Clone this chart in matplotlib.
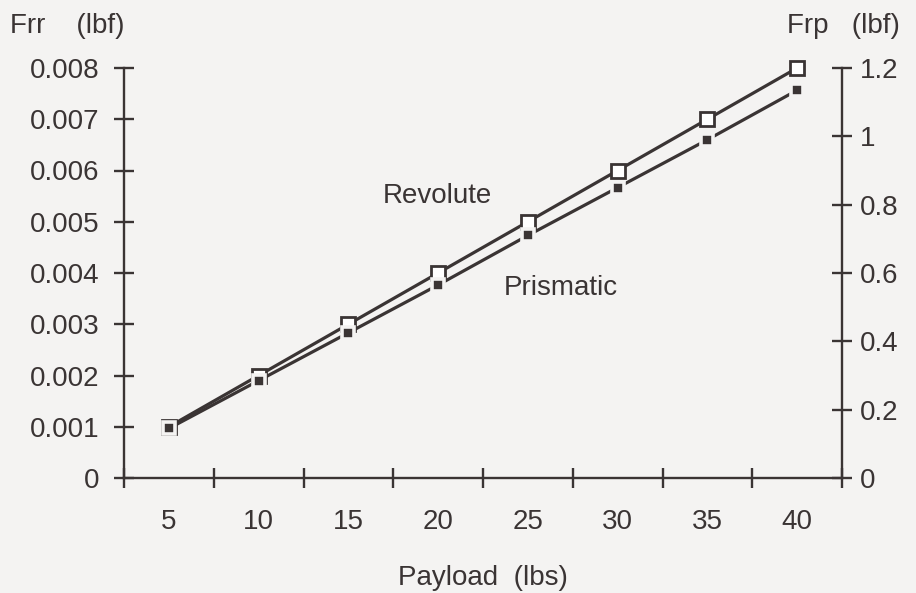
import matplotlib
matplotlib.use("Agg")
import matplotlib.pyplot as plt
import numpy as np

payload = [5, 10, 15, 20, 25, 30, 35, 40]
payload_labels = ["5", "10", "15", "20", "25", "30", "35", "40"]
frr_revolute = [0.001, 0.002, 0.003, 0.004, 0.005, 0.006, 0.007, 0.008]
frp_prismatic = [0.145, 0.285, 0.425, 0.565, 0.71, 0.85, 0.99, 1.135]
left_ticks = [0, 0.001, 0.002, 0.003, 0.004, 0.005, 0.006, 0.007, 0.008]
left_ticklabels = ["0", "0.001", "0.002", "0.003", "0.004", "0.005", "0.006", "0.007", "0.008"]
right_ticks = [0, 0.2, 0.4, 0.6, 0.8, 1.0, 1.2]
right_ticklabels = ["0", "0.2", "0.4", "0.6", "0.8", "1", "1.2"]

plt.rcParams['font.family'] = ['Liberation Sans', 'DejaVu Sans']
ink = '#3a3434'
bg = '#f4f3f2'
fs = 20

fig = plt.figure(figsize=(9.16, 5.93), dpi=100, facecolor=bg)
ax = fig.add_axes([124/916, 115/593, (842-124)/916, (478-68)/593])
ax.set_facecolor('none')
ax2 = ax.twinx()
ax2.set_facecolor('none')

xpos = np.arange(len(payload)) + 0.5

ax.plot(xpos, frr_revolute, color=ink, lw=2.3, marker='s', ms=10.5,
        mfc='white', mec=ink, mew=2.0, zorder=3, clip_on=False)
ax2.plot(xpos, frp_prismatic, color=ink, lw=2.3, marker='s', ms=9,
         mfc=ink, mec=bg, mew=2.6, zorder=4, clip_on=False)

ax.set_xlim(0, len(payload))
ax.set_ylim(0, 0.008)
ax2.set_ylim(0, 1.2)

for a in (ax, ax2):
    a.spines['top'].set_visible(False)
    for s in a.spines.values():
        s.set_color(ink)
        s.set_linewidth(1.7)
ax.spines['right'].set_visible(False)
ax2.spines['left'].set_visible(False)
ax2.spines['bottom'].set_visible(False)

ax.set_xticks(np.arange(len(payload) + 1))
ax.set_xticklabels([])
ax.set_xticks(xpos, minor=True)
ax.set_xticklabels(payload_labels, minor=True)
ax.tick_params(axis='x', which='major', direction='inout', length=14, width=1.7, color=ink)
ax.tick_params(axis='x', which='minor', length=0, pad=22, labelsize=fs, labelcolor=ink)

ax.set_yticks(left_ticks)
ax.set_yticklabels(left_ticklabels)
ax.tick_params(axis='y', direction='inout', length=14, width=1.7, color=ink,
               labelsize=fs, labelcolor=ink, pad=11)

ax2.set_yticks(right_ticks)
ax2.set_yticklabels(right_ticklabels)
ax2.tick_params(axis='y', direction='inout', length=14, width=1.7, color=ink,
                labelsize=fs, labelcolor=ink, pad=6)

ax.set_xlabel("Payload  (lbs)", fontsize=fs, color=ink, labelpad=22)

fig.text(10/916, 1 - 26/593, "Frr    (lbf)", fontsize=fs, color=ink, ha='left', va='center')
fig.text(787/916, 1 - 26/593, "Frp   (lbf)", fontsize=fs, color=ink, ha='left', va='center')

ax.text(2.88, 0.0055, "Revolute", fontsize=fs, color=ink, ha='left', va='center')
ax.text(4.23, 0.0037, "Prismatic", fontsize=fs, color=ink, ha='left', va='center')

fig.savefig("out.png", dpi=100, facecolor=bg)
